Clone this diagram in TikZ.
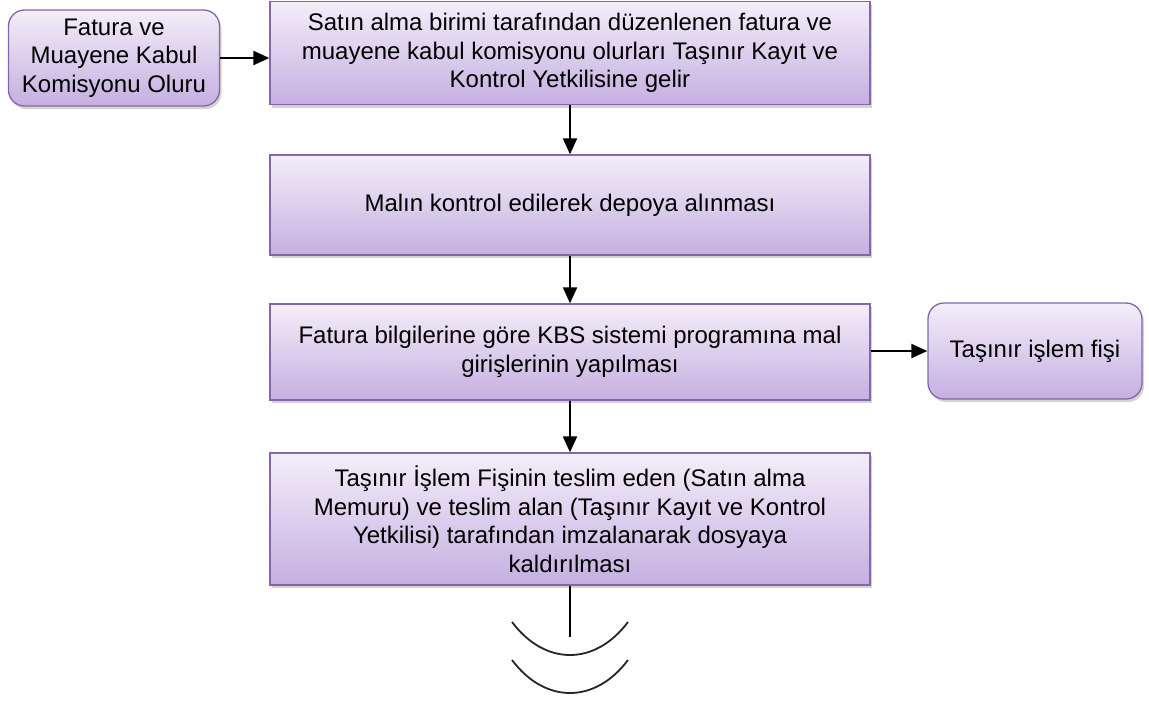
\documentclass[tikz,border=0pt]{standalone}
\usepackage{fontspec}
\setmainfont{Liberation Sans}
\usetikzlibrary{shadows,arrows.meta}
\definecolor{bordc}{HTML}{8566AB}
\definecolor{topc}{HTML}{F3EEF9}
\definecolor{botc}{HTML}{C5AFE0}
\tikzset{
  procbox/.style={draw=bordc, line width=1.3pt, top color=topc, bottom color=botc,
    drop shadow={shadow xshift=2pt, shadow yshift=-3pt, opacity=0.35},
    align=center, font=\fontsize{24}{28.5}\selectfont, inner sep=0pt},
  roundbox/.style={procbox, rounded corners=16pt},
  conn/.style={line width=2pt, -{Triangle[length=16pt,width=14pt]}},
  arcline/.style={line width=1.8pt, draw=black!85}
}
\begin{document}
\begin{tikzpicture}[x=1pt,y=-1pt]
\useasboundingbox (0,0) rectangle (1149,702);
\node[roundbox, minimum width=211pt, minimum height=96pt] (src) at (114,58) {Fatura ve\\Muayene Kabul\\Komisyonu Oluru};
\node[procbox, minimum width=600pt, minimum height=103pt] (b1) at (570,53) {Satın alma birimi tarafından düzenlenen fatura ve\\muayene kabul komisyonu olurları Taşınır Kayıt ve\\Kontrol Yetkilisine gelir};
\node[procbox, minimum width=600pt, minimum height=100pt] (b2) at (570,205) {Malın kontrol edilerek depoya alınması};
\node[procbox, minimum width=600pt, minimum height=96pt] (b3) at (570,352) {\raisebox{-3pt}{\parbox{580pt}{\centering Fatura bilgilerine göre KBS sistemi programına mal\\girişlerinin yapılması}}};
\node[roundbox, minimum width=214pt, minimum height=96pt] (fis) at (1035,351) {Taşınır işlem fişi};
\node[procbox, minimum width=600pt, minimum height=132pt] (b4) at (570,519) {Taşınır İşlem Fişinin teslim eden (Satın alma\\Memuru) ve teslim alan (Taşınır Kayıt ve Kontrol\\Yetkilisi) tarafından imzalanarak dosyaya\\kaldırılması};
\coordinate (tail) at (570,637);
\draw[conn] (src.east) -- (src.east -| b1.west);
\draw[conn] (b1.south) -- (b2.north);
\draw[conn] (b2.south) -- (b3.north);
\draw[conn] (b3.east |- fis.west) -- (fis.west);
\draw[conn] (b3.south) -- (b4.north);
\draw[line width=2pt] (b4.south) -- (tail);
\draw[arcline] (512,622) .. controls (545,666) and (595,666) .. (628,622);
\draw[arcline] (512,660) .. controls (545,704) and (595,704) .. (628,660);
\end{tikzpicture}
\end{document}
